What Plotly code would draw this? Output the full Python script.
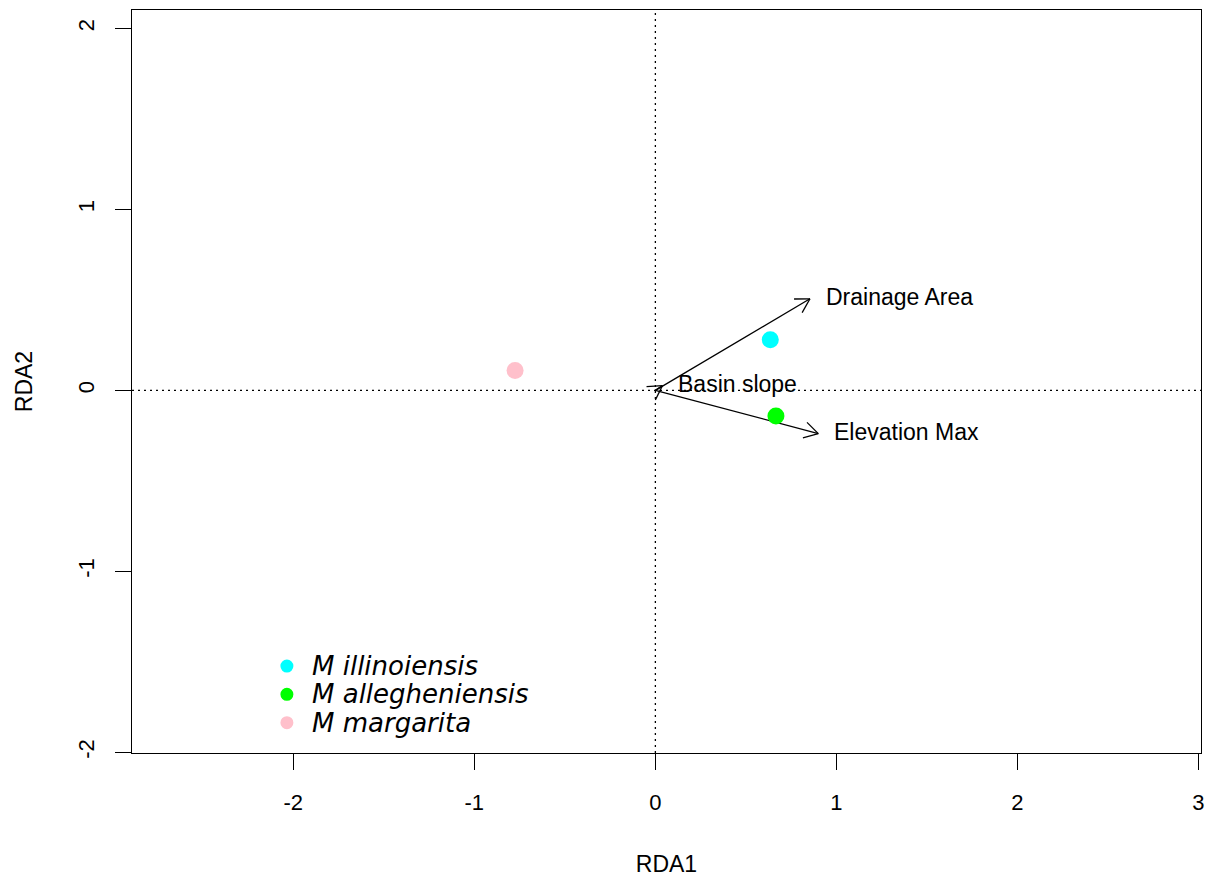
import numpy as np
import plotly.graph_objects as go

# Species scores (site/centroid points)
species = ["M illinoiensis", "M allegheniensis", "M margarita"]
sp_rda1 = [0.635, 0.666, -0.775]
sp_rda2 = [0.280, -0.142, 0.110]
sp_colors = ["#00FFFF", "#00FF00", "#FFC0CB"]

# Environmental biplot arrows
env_names = ["Drainage Area", "Basin slope", "Elevation Max"]
env_rda1 = [0.854, 0.039, 0.900]
env_rda2 = [0.506, 0.026, -0.239]

x_ticks = [-2, -1, 0, 1, 2, 3]
y_ticks = [-2, -1, 0, 1, 2]

W, H = 1208, 880
L, R, T, B = 132, 6.5, 9.5, 127
x_range = [-2.891, 3.014]
y_range = [-2.004, 2.102]

fig = go.Figure()

# arrows: shafts + open heads
head_len = 0.088
head_ang = np.deg2rad(30)
ax_x, ax_y = [], []
for ex, ey in zip(env_rda1, env_rda2):
    th = np.arctan2(ey, ex)
    ax_x += [0, ex, None]
    ax_y += [0, ey, None]
    for s in (1, -1):
        hx = ex - head_len * np.cos(th + s * head_ang)
        hy = ey - head_len * np.sin(th + s * head_ang)
        ax_x += [hx, ex, None]
        ax_y += [hy, ey, None]
fig.add_trace(go.Scatter(x=ax_x, y=ax_y, mode="lines",
                         line=dict(color="black", width=1.3),
                         hoverinfo="skip", showlegend=False))

# species points
fig.add_trace(go.Scatter(x=sp_rda1, y=sp_rda2, mode="markers",
                         marker=dict(size=17, color=sp_colors),
                         text=species, showlegend=False))

font_main = "Liberation Sans, Arial, sans-serif"

# arrow labels
for name, ex, ey in zip(env_names, env_rda1, env_rda2):
    fig.add_annotation(x=ex, y=ey, text=name, showarrow=False,
                       xanchor="left", yanchor="middle", xshift=14, yshift=2,
                       font=dict(family=font_main, size=23, color="black"))

# zero reference lines
fig.add_shape(type="line", xref="x", yref="paper", x0=0, x1=0, y0=0, y1=1,
              line=dict(color="black", width=1.3, dash="2px,4px"))
fig.add_shape(type="line", xref="paper", yref="y", x0=0, x1=1, y0=0, y1=0,
              line=dict(color="black", width=1.3, dash="2px,4px"))

# manual legend
leg_x = 0.1449
leg_text_x = 0.1664
leg_y = [0.117, 0.079, 0.0408]
for name, col, ly in zip(species, sp_colors, leg_y):
    fig.add_shape(type="circle", xref="paper", yref="paper",
                  xsizemode="pixel", ysizemode="pixel",
                  xanchor=leg_x, yanchor=ly, x0=-6.5, x1=6.5, y0=-6.5, y1=6.5,
                  fillcolor=col, line=dict(width=0))
    fig.add_annotation(xref="paper", yref="paper", x=leg_text_x, y=ly,
                       text="<i>" + name + "</i>", showarrow=False,
                       xanchor="left", yanchor="middle",
                       font=dict(family="DejaVu Sans", size=26, color="black"))

axis_common = dict(showgrid=False, zeroline=False, showline=True, mirror=True,
                   linecolor="black", linewidth=1.3, ticks="outside",
                   ticklen=16, tickwidth=1.3, tickcolor="black",
                   tickfont=dict(family=font_main, size=22, color="black"))

fig.update_xaxes(range=x_range, tickvals=x_ticks, ticktext=[str(v) for v in x_ticks],
                 ticklabelstandoff=13,
                 title=dict(text="RDA1", standoff=42,
                            font=dict(family=font_main, size=23, color="black")),
                 **axis_common)
fig.update_yaxes(range=y_range, tickvals=y_ticks, ticktext=[str(v) for v in y_ticks],
                 tickangle=-90, ticklabelstandoff=12,
                 title=dict(text="RDA2", standoff=34,
                            font=dict(family=font_main, size=23, color="black")),
                 **axis_common)

fig.update_layout(width=W, height=H,
                  margin=dict(l=L, r=R, t=T, b=B, autoexpand=False),
                  plot_bgcolor="white", paper_bgcolor="white",
                  showlegend=False)

fig.write_html("out.html", config={"displayModeBar": False},
               post_script="document.body.style.margin='0';document.body.style.overflow='hidden';")
